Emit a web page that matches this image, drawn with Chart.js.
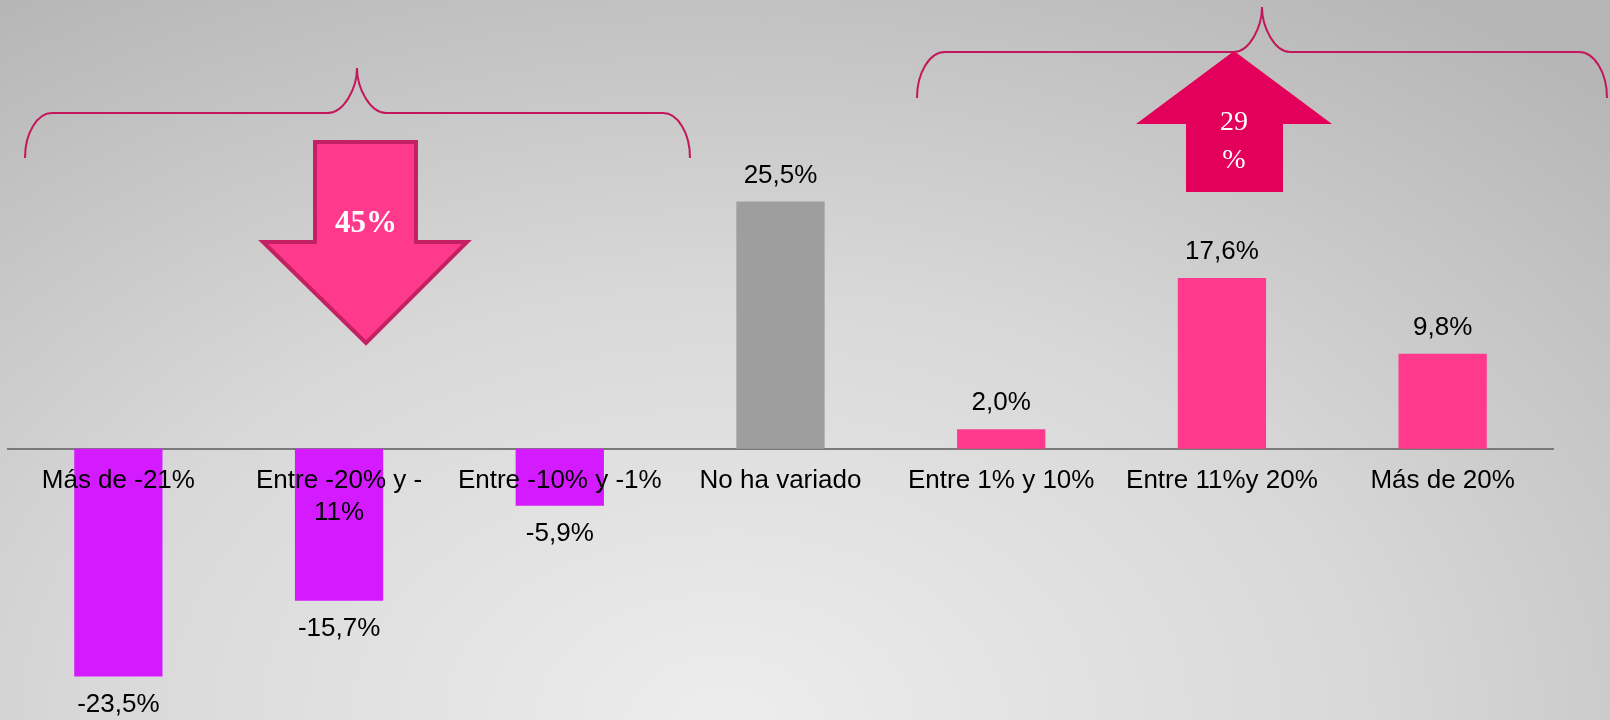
<!DOCTYPE html>
<html>
<head>
<meta charset="utf-8">
<script src="https://cdn.jsdelivr.net/npm/chart.js@4/dist/chart.umd.min.js"></script>
<style>
  html, body { margin: 0; padding: 0; overflow: hidden; }
  body {
    width: 1610px;
    height: 720px;
    background: radial-gradient(ellipse 80% 120% at 45% 100%, #ededed 0%, #d8d8d8 50%, #b6b6b6 100%);
  }
  #wrap { width: 1610px; height: 720px; position: relative; }
</style>
</head>
<body>
<div id="wrap"><canvas id="chart"></canvas></div>
<script>
const categories = [
  "Más de -21%",
  ["Entre -20% y -", "11%"],
  "Entre -10% y -1%",
  "No ha variado",
  "Entre 1% y 10%",
  "Entre 11%y 20%",
  "Más de 20%"
];
const values = [-23.5, -15.7, -5.9, 25.5, 2.0, 17.6, 9.8];
const valueLabels = ["-23,5%", "-15,7%", "-5,9%", "25,5%", "2,0%", "17,6%", "9,8%"];
const barColors = ["#d41bff", "#d41bff", "#d41bff", "#9e9e9e", "#ff3a8c", "#ff3a8c", "#ff3a8c"];

const FONT = "'Liberation Sans', Arial, sans-serif";
const K = 0.5523;

// value labels above / below each bar
const valueLabelPlugin = {
  id: "valueLabels",
  afterDatasetsDraw(chart) {
    const ctx = chart.ctx;
    const bars = chart.getDatasetMeta(0).data;
    ctx.save();
    ctx.font = "26px " + FONT;
    ctx.fillStyle = "#000";
    ctx.textAlign = "center";
    ctx.textBaseline = "middle";
    bars.forEach((bar, i) => {
      const y = values[i] >= 0 ? bar.y - 26 : bar.y + 28;
      ctx.fillText(valueLabels[i], bar.x, y);
    });
    ctx.restore();
  }
};

// curly brace: quarter-ellipse corners and a pointed middle
function drawBrace(ctx, x1, x2, xm, yBase, yLine, yTip, r, m) {
  const h = yBase - yLine;
  const t = yLine - yTip;
  ctx.beginPath();
  ctx.moveTo(x1, yBase);
  ctx.bezierCurveTo(x1, yBase - h * K, x1 + r - r * K, yLine, x1 + r, yLine);
  ctx.lineTo(xm - m, yLine);
  ctx.bezierCurveTo(xm - m + m * K, yLine, xm, yLine - t * K, xm, yTip);
  ctx.bezierCurveTo(xm, yLine - t * K, xm + m - m * K, yLine, xm + m, yLine);
  ctx.lineTo(x2 - r, yLine);
  ctx.bezierCurveTo(x2 - r + r * K, yLine, x2, yBase - h * K, x2, yBase);
  ctx.stroke();
}

// braces and arrows over the two groups
const decorPlugin = {
  id: "decor",
  afterDraw(chart) {
    const ctx = chart.ctx;
    ctx.save();
    ctx.strokeStyle = "#c2185b";
    ctx.lineWidth = 2;
    drawBrace(ctx, 25, 690, 357, 158, 113, 68, 27, 29);
    drawBrace(ctx, 917, 1607, 1262, 98, 52, 7, 28, 28);

    // down arrow
    ctx.beginPath();
    ctx.moveTo(315, 142);
    ctx.lineTo(416, 142);
    ctx.lineTo(416, 242);
    ctx.lineTo(467, 242);
    ctx.lineTo(366, 343);
    ctx.lineTo(263, 242);
    ctx.lineTo(315, 242);
    ctx.closePath();
    ctx.fillStyle = "#ff3a8c";
    ctx.fill();
    ctx.lineWidth = 4;
    ctx.strokeStyle = "#c42064";
    ctx.lineJoin = "miter";
    ctx.stroke();

    // up arrow
    ctx.beginPath();
    ctx.moveTo(1234, 51);
    ctx.lineTo(1332, 124);
    ctx.lineTo(1283, 124);
    ctx.lineTo(1283, 192);
    ctx.lineTo(1186, 192);
    ctx.lineTo(1186, 124);
    ctx.lineTo(1136, 124);
    ctx.closePath();
    ctx.fillStyle = "#e3005a";
    ctx.fill();

    ctx.fillStyle = "#fff";
    ctx.textAlign = "center";
    ctx.textBaseline = "middle";
    ctx.font = "bold 31px 'Liberation Serif', 'DejaVu Serif', serif";
    ctx.fillText("45%", 366, 224);
    ctx.font = "28px 'Liberation Serif', 'DejaVu Serif', serif";
    ctx.fillText("29", 1234, 123);
    ctx.fillText("%", 1234, 161);
    ctx.restore();
  }
};

new Chart(document.getElementById("chart"), {
  type: "bar",
  data: {
    labels: categories,
    datasets: [{
      data: values,
      backgroundColor: barColors,
      borderWidth: 0,
      barPercentage: 0.4,
      categoryPercentage: 1
    }]
  },
  options: {
    responsive: true,
    maintainAspectRatio: false,
    animation: false,
    layout: { padding: { left: 8, right: 57, top: 0, bottom: 0 } },
    plugins: { legend: { display: false }, tooltip: { enabled: false } },
    scales: {
      x: {
        position: { y: 0 },
        grid: { display: false, drawTicks: false },
        border: { display: true, color: "#7a7a7a", width: 2 },
        ticks: {
          z: 1,
          color: "#000",
          font: { family: FONT, size: 26 },
          padding: 17,
          autoSkip: false,
          maxRotation: 0
        }
      },
      y: {
        display: false,
        min: -28,
        max: 46.3
      }
    }
  },
  plugins: [valueLabelPlugin, decorPlugin]
});
</script>
</body>
</html>
